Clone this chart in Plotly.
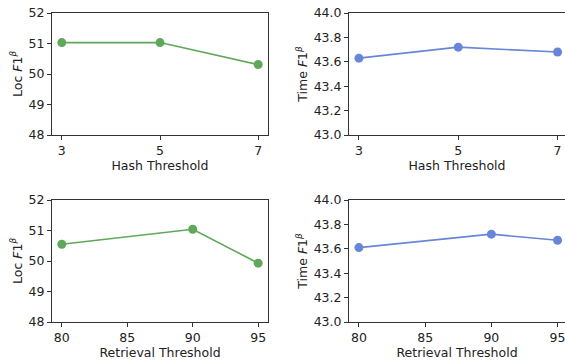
import plotly.graph_objects as go

hash_thresholds = [3, 5, 7]
hash_loc_f1 = [51.03, 51.03, 50.31]
hash_time_f1 = [43.63, 43.72, 43.68]

retrieval_thresholds = [80, 90, 95]
retrieval_loc_f1 = [50.55, 51.04, 49.93]
retrieval_time_f1 = [43.61, 43.72, 43.67]

hash_ticks = [3, 5, 7]
retrieval_ticks = [80, 85, 90, 95]
loc_ticks = [48, 49, 50, 51, 52]
time_ticks = [43.0, 43.2, 43.4, 43.6, 43.8, 44.0]

GREEN = "#5fa85a"
BLUE = "#6786d8"
FONT = "DejaVu Sans"
FS = 12.5
TXT = "#222222"
W, H = 565, 362

fig = go.Figure()

def px_x(a, b):
    return [a / W, min(b / W, 1.0)]

def px_y(top, bottom):
    return [(H - bottom) / H, (H - top) / H]

CUT = 2.5 / 218.5  # fraction of the right-column axes lying past the page edge

panels = [
    ("x", "y", hash_thresholds, hash_loc_f1, GREEN, px_x(52, 268), px_y(13, 135),
     [2.8, 7.2], [48, 52], hash_ticks, loc_ticks, "Hash Threshold", "Loc <i>F</i>1<sup><i>β</i></sup>", True, "d"),
    ("x2", "y2", hash_thresholds, hash_time_f1, BLUE, px_x(349, 565), px_y(13, 135),
     [2.8, 7.2 - 4.4 * CUT], [43, 44], hash_ticks, time_ticks, "Hash Threshold", "Time <i>F</i>1<sup><i>β</i></sup>", False, ".1f"),
    ("x3", "y3", retrieval_thresholds, retrieval_loc_f1, GREEN, px_x(52, 268), px_y(200, 322),
     [79.25, 95.75], [48, 52], retrieval_ticks, loc_ticks, "Retrieval Threshold", "Loc <i>F</i>1<sup><i>β</i></sup>", True, "d"),
    ("x4", "y4", retrieval_thresholds, retrieval_time_f1, BLUE, px_x(349, 565), px_y(200, 322),
     [79.25, 95.75 - 16.5 * CUT], [43, 44], retrieval_ticks, time_ticks, "Retrieval Threshold", "Time <i>F</i>1<sup><i>β</i></sup>", False, ".1f"),
]

layout = {}
for xa, ya, xs, ys, col, xd, yd, xr, yr, xt, yt, xtitle, ytitle, ymirror, yfmt in panels:
    fig.add_trace(go.Scatter(
        x=xs, y=ys, xaxis=xa, yaxis=ya, mode="lines+markers",
        line=dict(color=col, width=1.6),
        marker=dict(color=col, size=9),
        showlegend=False, cliponaxis=False,
    ))
    xkey = "xaxis" if xa == "x" else "xaxis" + xa[1:]
    ykey = "yaxis" if ya == "y" else "yaxis" + ya[1:]
    layout[xkey] = dict(
        domain=xd, range=xr, anchor=ya, tickmode="array", tickvals=xt,
        showline=True, linecolor="#333333", linewidth=1, mirror=True,
        ticks="outside", ticklen=4, tickcolor="#333333", showgrid=False, zeroline=False,
        tickfont=dict(family=FONT, size=FS, color=TXT), ticklabeloverflow="allow",
        title=dict(text=xtitle, font=dict(family=FONT, size=FS, color=TXT), standoff=3),
        automargin=False,
    )
    layout[ykey] = dict(
        domain=yd, range=yr, anchor=xa, tickmode="array", tickvals=yt, tickformat=yfmt,
        showline=True, linecolor="#333333", linewidth=1, mirror=ymirror,
        ticks="outside", ticklen=4, tickcolor="#333333", showgrid=False, zeroline=False,
        tickfont=dict(family=FONT, size=FS, color=TXT), ticklabeloverflow="allow",
        title=dict(text=ytitle, font=dict(family=FONT, size=FS, color=TXT), standoff=3),
        automargin=False,
    )

fig.update_layout(
    width=W, height=H,
    margin=dict(l=0, r=0, t=0, b=0),
    plot_bgcolor="white", paper_bgcolor="white",
    font=dict(family=FONT, size=FS, color=TXT),
    hovermode=False,
    **layout,
)

fig.write_html(
    "out.html",
    config={"displayModeBar": False, "staticPlot": True},
    post_script="document.body.style.margin='0px';document.body.style.overflow='hidden';",
)
